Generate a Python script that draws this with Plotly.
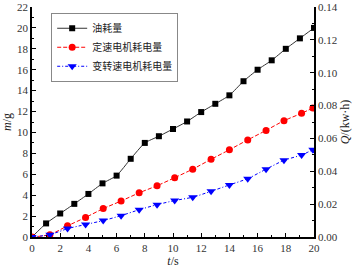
import plotly.graph_objects as go

# Oil consumption (left axis, g)
t_oil = [0, 1, 2, 3, 4, 5, 6, 7, 8, 9, 10, 11, 12, 13, 14, 15, 16, 17, 18, 19, 20]
m_oil = [0, 1.3, 2.25, 3.17, 4.12, 5.13, 5.87, 7.48, 9.0, 9.64, 10.33, 11.05, 11.95,
         12.74, 13.55, 14.9, 16.0, 16.9, 18.0, 19.0, 20.0]

# Motor energy (right axis, kW·h)
t_motor = [0, 1.27, 2.52, 3.8, 5.05, 6.32, 7.6, 8.87, 10.12, 11.4, 12.7, 14.0, 15.3,
           16.6, 17.87, 19.12, 19.92]
q_fixed = [0, 0.0014, 0.0068, 0.0119, 0.0173, 0.0219, 0.0269, 0.0312, 0.0361, 0.0413,
           0.0473, 0.0531, 0.0591, 0.0649, 0.0708, 0.0753, 0.0785]
q_var = [0, 0.0014, 0.0051, 0.0076, 0.0100, 0.0130, 0.0166, 0.0197, 0.0222, 0.0242,
         0.0278, 0.0317, 0.0355, 0.0413, 0.0467, 0.0499, 0.0531]

names = ["油耗量", "定速电机耗电量", "变转速电机耗电量"]
x_ticks = list(range(0, 21, 2))
y_ticks = list(range(0, 23, 2))
y2_ticks = [0, 0.02, 0.04, 0.06, 0.08, 0.10, 0.12, 0.14]

SERIF = "Liberation Serif, Times New Roman, serif"
tick_font = dict(family=SERIF, size=11, color="#333")
title_font = dict(family=SERIF, size=12, color="#222")

fig = go.Figure()
fig.add_trace(go.Scatter(x=t_oil, y=m_oil, name=names[0], mode="lines+markers",
                         line=dict(color="#333", width=1, shape="spline", smoothing=0.5),
                         marker=dict(symbol="square", size=6, color="black")))
fig.add_trace(go.Scatter(x=t_motor, y=q_fixed, name=names[1], mode="lines+markers", yaxis="y2",
                         line=dict(color="red", width=1, dash="4px,2px", shape="spline", smoothing=0.5),
                         marker=dict(symbol="circle", size=7, color="red")))
fig.add_trace(go.Scatter(x=t_motor, y=q_var, name=names[2], mode="lines+markers", yaxis="y2",
                         line=dict(color="blue", width=1, dash="3px,2px,1px,2px", shape="spline", smoothing=0.5),
                         marker=dict(symbol="triangle-down", size=8, color="blue")))

axis_common = dict(showline=True, linecolor="black", linewidth=1.5, ticks="inside",
                   ticklen=4, tickwidth=1, tickcolor="black", showgrid=False, zeroline=False,
                   tickfont=tick_font, automargin=False, ticklabeloverflow="allow")

fig.update_layout(
    width=354, height=268,
    margin=dict(l=32, r=40, t=7, b=31, pad=0),
    paper_bgcolor="white", plot_bgcolor="white",
    showlegend=True,
    legend=dict(x=0.068, y=0.975, xanchor="left", yanchor="top",
                bgcolor="white", bordercolor="#888", borderwidth=1,
                font=dict(family="Noto Sans CJK SC", size=10, color="#222"),
                tracegroupgap=0, itemwidth=30),
    xaxis=dict(range=[0, 20], tickvals=x_ticks,
               minor=dict(dtick=1, ticks="inside", ticklen=2, tickcolor="black"),
               title=dict(text="<i>t</i>/s", font=title_font, standoff=4),
               **axis_common),
    yaxis=dict(range=[0, 22], tickvals=y_ticks,
               minor=dict(dtick=1, ticks="inside", ticklen=2, tickcolor="black"),
               title=dict(text="<i>m</i>/g", font=title_font, standoff=4),
               **axis_common),
    yaxis2=dict(range=[0, 0.14], tickvals=y2_ticks, tickformat=".2f", overlaying="y", side="right",
                minor=dict(dtick=0.01, ticks="inside", ticklen=2, tickcolor="black"),
                title=dict(text="<i>Q</i>/(kw·h)", font=title_font, standoff=4),
                **axis_common),
)

fig.write_html("out.html", config={"displayModeBar": False},
               post_script="document.body.style.margin='0';document.body.style.padding='0';")
